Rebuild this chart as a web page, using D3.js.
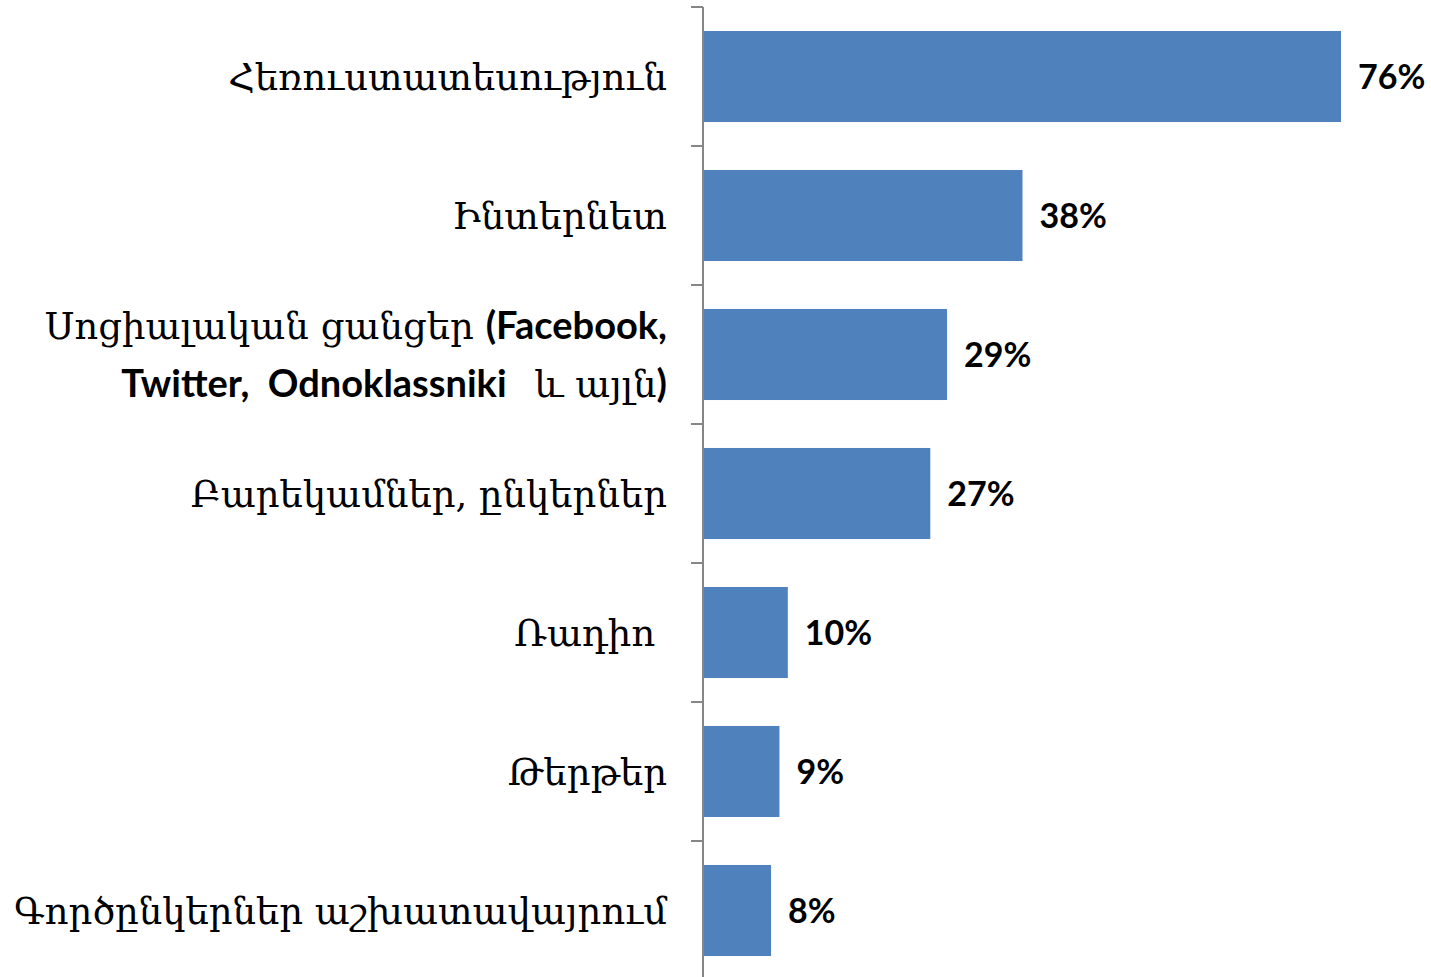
<!DOCTYPE html>
<html>
<head>
<meta charset="utf-8">
<script src="https://cdn.jsdelivr.net/npm/d3@7"></script>
<style>
  body { margin: 0; background: #fff; }
  svg { display: block; }
</style>
</head>
<body>
<svg id="chart" width="1431" height="977"></svg>
<script>
// categories (each label split into lines, each line into [text, latin?] parts)
const categories = [
    "Հեռուստատեսություն",
    "Ինտերնետ",
    "Սոցիալական ցանցեր (Facebook, Twitter, Odnoklassniki  և այլն)",
    "Բարեկամներ, ընկերներ",
    "Ռադիո ",
    "Թերթեր",
    "Գործընկերներ աշխատավայրում"
];
const labelLines = [
    [[["Հեռուստատեսություն", false]]],
    [[["Ինտերնետ", false]]],
    [[["Սոցիալական ցանցեր ", false], ["(Facebook,", true]],
     [["Twitter,  Odnoklassniki   ", true], ["և այլն", false], [")", true]]],
    [[["Բարեկամներ, ընկերներ", false]]],
    [[["Ռադիո ", false]]],
    [[["Թերթեր", false]]],
    [[["Գործընկերներ աշխատավայրում", false]]]
];
const values = [76, 38, 29, 27, 10, 9, 8];

const width = 1431, height = 977;
const axisX = 703;

const svg = d3.select("#chart");

const yScale = d3.scaleBand()
    .domain(categories)
    .range([7, 980])
    .paddingInner(0.345)
    .paddingOuter(0.1725);

const xScale = d3.scaleLinear()
    .domain([0, 76])
    .range([axisX + 1, 1341]);

// bars
svg.selectAll(".bar")
    .data(values)
    .enter()
    .append("rect")
    .attr("class", "bar")
    .attr("x", xScale(0))
    .attr("y", (d, i) => yScale(categories[i]))
    .attr("width", d => xScale(d) - xScale(0))
    .attr("height", yScale.bandwidth())
    .attr("fill", "#4f81bd");

// axis line + ticks at band boundaries
const step = yScale.step();
const bounds = categories.map(c => yScale(c) - step * yScale.paddingInner() / 2);
bounds.push(bounds[bounds.length - 1] + step);

svg.append("line")
    .attr("x1", axisX).attr("x2", axisX)
    .attr("y1", bounds[0]).attr("y2", height)
    .attr("stroke", "#868686")
    .attr("stroke-width", 2);

svg.selectAll(".tick")
    .data(bounds)
    .enter()
    .append("line")
    .attr("class", "tick")
    .attr("x1", axisX - 12).attr("x2", axisX)
    .attr("y1", d => d).attr("y2", d => d)
    .attr("stroke", "#868686")
    .attr("stroke-width", 2);

// value labels
svg.selectAll(".value")
    .data(values)
    .enter()
    .append("text")
    .attr("class", "value")
    .attr("x", d => xScale(d) + 17)
    .attr("y", (d, i) => yScale(categories[i]) + yScale.bandwidth() / 2)
    .attr("dy", "0.36em")
    .style("font-family", "Lato, 'Open Sans', sans-serif")
    .style("font-weight", "bold")
    .style("font-size", "34px")
    .style("fill", "#000")
    .text(d => d + "%");

// category labels
const labelGroups = svg.selectAll(".cat")
    .data(labelLines)
    .enter()
    .append("text")
    .attr("class", "cat")
    .attr("text-anchor", "end")
    .style("white-space", "pre")
    .style("fill", "#000");

labelGroups.each(function (lines, i) {
    const cy = yScale(categories[i]) + yScale.bandwidth() / 2;
    const lineH = 58;
    const y0 = cy - (lines.length - 1) * lineH / 2;
    lines.forEach((parts, li) => {
        parts.forEach((p, pi) => {
            const ts = d3.select(this).append("tspan")
                .text(p[0])
                .style("font-family", p[1] ? "Lato, 'Open Sans', sans-serif" : "'DejaVu Serif', serif")
                .style("font-size", p[1] ? "38px" : "37px")
                .style("font-weight", p[1] ? "bold" : "normal");
            if (pi === 0) {
                ts.attr("x", 667).attr("y", y0 + li * lineH).attr("dy", "0.36em");
            }
        });
    });
});
</script>
</body>
</html>
